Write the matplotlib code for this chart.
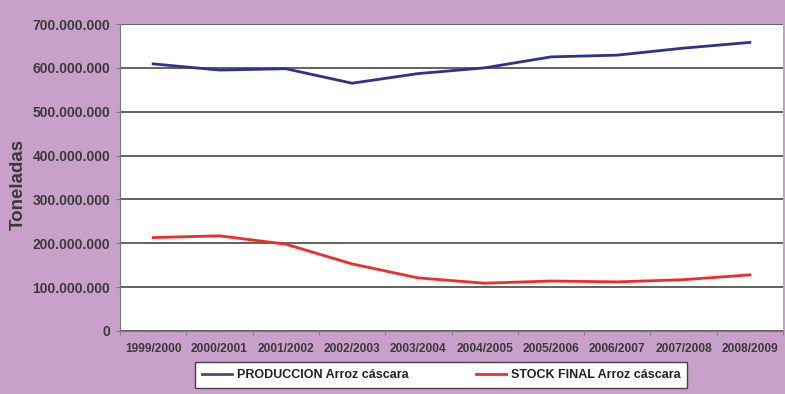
import matplotlib
matplotlib.use("Agg")
import matplotlib.pyplot as plt
from matplotlib.ticker import FuncFormatter

plt.rcParams["font.family"] = ["Liberation Sans", "DejaVu Sans"]

categories = ["1999/2000", "2000/2001", "2001/2002", "2002/2003", "2003/2004",
              "2004/2005", "2005/2006", "2006/2007", "2007/2008", "2008/2009"]
produccion = [609e6, 595e6, 598e6, 565e6, 587e6, 600e6, 625e6, 629e6, 645e6, 658e6]
stock = [213e6, 217e6, 198e6, 153e6, 121e6, 109e6, 114e6, 112e6, 117e6, 128e6]
yticks = [0, 100e6, 200e6, 300e6, 400e6, 500e6, 600e6, 700e6]

bg = "#C8A0CA"
text_col = "#3a3a3a"

fig = plt.figure(figsize=(7.85, 3.94), dpi=100, facecolor=bg)
ax = fig.add_axes([120/785, 63/394, 663/785, 307/394])
ax.set_facecolor("white")

x = list(range(len(categories)))
ax.plot(x, produccion, color="#2E3192", lw=2.0, label="PRODUCCION Arroz cáscara", zorder=3)
ax.plot(x, stock, color="#F42A2A", lw=2.0, label="STOCK FINAL Arroz cáscara", zorder=3)

ax.set_xlim(-0.5, len(categories) - 0.5)
ax.set_ylim(0, 700e6)
ax.set_yticks(yticks)
ax.yaxis.set_major_formatter(FuncFormatter(lambda v, p: "0" if v == 0 else f"{int(v):,}".replace(",", ".")))
ax.grid(axis="y", color="#555555", lw=1.3, zorder=1)
ax.set_axisbelow(True)

ax.set_xticks(x)
ax.set_xticklabels(categories)
ax.set_xticks([i - 0.5 for i in range(len(categories) + 1)], minor=True)
ax.tick_params(axis="x", which="major", length=0, pad=9, labelsize=8.6, labelcolor=text_col)
ax.tick_params(axis="x", which="minor", length=3, color="#777777")
ax.tick_params(axis="y", length=3, color="#777777", labelsize=10, labelcolor=text_col, pad=4)
for lbl in ax.get_xticklabels() + ax.get_yticklabels():
    lbl.set_fontweight("bold")

for side in ["top", "right"]:
    ax.spines[side].set_visible(False)
ax.spines["left"].set_color("#777777")
ax.spines["bottom"].set_color("#777777")

fig.text(18/785, 1 - 184/394, "Toneladas", rotation=90, ha="center", va="center",
         fontsize=13.5, fontweight="bold", color=text_col)

leg = fig.legend(loc="center", bbox_to_anchor=(441/785, 1 - 375/394), ncol=2,
                 frameon=True, fancybox=False, fontsize=9, columnspacing=5.4,
                 handlelength=2.4, borderpad=0.55, handletextpad=0.4, framealpha=1)
leg.get_frame().set_edgecolor("#444444")
leg.get_frame().set_linewidth(1.0)
leg.legend_handles[0].set_color("#4a4a78")
for t in leg.get_texts():
    t.set_fontweight("bold")
    t.set_color("#222222")

fig.savefig("out.png", dpi=100, facecolor=bg)
